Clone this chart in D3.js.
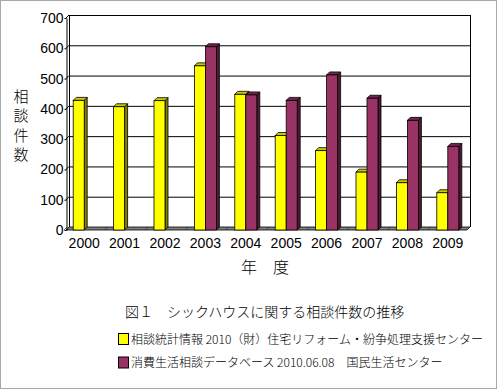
<!DOCTYPE html>
<html>
<head>
<meta charset="utf-8">
<script src="https://cdn.jsdelivr.net/npm/d3@7"></script>
<style>
  body { margin: 0; background: #fff; }
  text { font-family: "Liberation Sans", Arial, sans-serif; }
  .jp { font-family: "Noto Sans CJK JP", sans-serif; font-weight: 300; }
</style>
</head>
<body>
<script>
var years = ["2000", "2001", "2002", "2003", "2004", "2005", "2006", "2007", "2008", "2009"];
var reformCenter = [428, 407, 427, 542, 448, 312, 262, 191, 156, 123];
var kokuminCenter = [0, 0, 0, 605, 446, 428, 512, 435, 362, 276];
var yTicks = [0, 100, 200, 300, 400, 500, 600, 700];
var seriesNames = [
  "相談統計情報 2010（財）住宅リフォーム・紛争処理支援センター",
  "消費生活相談データベース 2010.06.08　国民生活センター"
];

var width = 497, height = 390;
var depth = 3;
var colors = [
  { front: "#ffff00", side: "#808000", top: "#c8c800" },
  { front: "#993366", side: "#4d1a33", top: "#73264d" }
];

var svg = d3.select("body").append("svg")
  .attr("width", width)
  .attr("height", height);

// outer frame
svg.append("rect")
  .attr("x", 0.5).attr("y", 0.5)
  .attr("width", width - 1).attr("height", height - 2)
  .attr("fill", "#fff")
  .attr("stroke", "#a8a8a8");

// front-face scales, back wall is shifted by depth
var y = d3.scaleLinear().domain([0, 700]).range([230, 18]);
var x = d3.scaleBand().domain(years).range([64, 468]);
var x1 = d3.scaleBand().domain([0, 1])
  .range([x.bandwidth() / 2 - 11, x.bandwidth() / 2 + 11]);

var left = 66, right = 467;

// back wall gridlines + left wall connectors
var grid = svg.append("g");
yTicks.forEach(function (t) {
  if (t === 0) return;
  grid.append("line")
    .attr("x1", left + depth).attr("x2", right + depth)
    .attr("y1", y(t) - depth + 0.5).attr("y2", y(t) - depth + 0.5)
    .attr("stroke", "#000");
  grid.append("line")
    .attr("x1", left).attr("x2", left + depth)
    .attr("y1", y(t)).attr("y2", y(t) - depth)
    .attr("stroke", "#000");
});
// back wall left and right edges
grid.append("line")
  .attr("x1", left + depth + 0.5).attr("x2", left + depth + 0.5)
  .attr("y1", y(700) - depth).attr("y2", y(0) - depth)
  .attr("stroke", "#000");
grid.append("line")
  .attr("x1", right + depth + 0.5).attr("x2", right + depth + 0.5)
  .attr("y1", y(700) - depth).attr("y2", y(0) - depth)
  .attr("stroke", "#000");

// floor
svg.append("path")
  .attr("d", "M" + left + "," + y(0) + "L" + (left + depth) + "," + (y(0) - depth) +
    "L" + (right + depth) + "," + (y(0) - depth) + "L" + right + "," + y(0) + "Z")
  .attr("fill", "#808080")
  .attr("stroke", "#000")
  .attr("stroke-width", 0.8);
years.forEach(function (yr) {
  var bx = x(yr);
  svg.append("line")
    .attr("x1", bx).attr("x2", bx + depth)
    .attr("y1", y(0)).attr("y2", y(0) - depth)
    .attr("stroke", "#333").attr("stroke-width", 0.8);
});

// bars
var bars = svg.append("g");
years.forEach(function (yr, i) {
  [reformCenter[i], kokuminCenter[i]].forEach(function (v, s) {
    if (!v) return;
    var bx = x(yr) + x1(s), w = x1.bandwidth();
    var top = y(v), base = y(0);
    var c = colors[s];
    bars.append("path")
      .attr("d", "M" + (bx + w) + "," + top + "L" + (bx + w + depth) + "," + (top - depth) +
        "L" + (bx + w + depth) + "," + (base - depth) + "L" + (bx + w) + "," + base + "Z")
      .attr("fill", c.side).attr("stroke", "#000").attr("stroke-width", 0.8);
    bars.append("path")
      .attr("d", "M" + bx + "," + top + "L" + (bx + depth) + "," + (top - depth) +
        "L" + (bx + w + depth) + "," + (top - depth) + "L" + (bx + w) + "," + top + "Z")
      .attr("fill", c.top).attr("stroke", "#000").attr("stroke-width", 0.8);
    bars.append("rect")
      .attr("x", bx).attr("y", top)
      .attr("width", w).attr("height", base - top)
      .attr("fill", c.front).attr("stroke", "#000").attr("stroke-width", 0.8);
  });
});

// y axis (front)
var yAxis = svg.append("g")
  .attr("transform", "translate(" + (left + 0.5) + ",0)")
  .call(d3.axisLeft(y).tickValues(yTicks).tickSize(2).tickSizeOuter(0).tickPadding(1));
yAxis.select(".domain").attr("stroke", "#000");
yAxis.selectAll("text").attr("font-size", 14).attr("fill", "#000")
  .attr("font-family", "Liberation Sans, Arial, sans-serif");

// x labels
svg.append("g").selectAll("text")
  .data(years).enter().append("text")
  .attr("x", function (d) { return x(d) + x.bandwidth() / 2; })
  .attr("y", 248)
  .attr("text-anchor", "middle")
  .attr("font-size", 14)
  .text(function (d) { return d; });

// axis titles
svg.append("text")
  .attr("class", "jp")
  .attr("x", 265).attr("y", 273)
  .attr("text-anchor", "middle")
  .attr("font-size", 16)
  .text("年　度");

svg.append("g").selectAll("text")
  .data("相談件数".split("")).enter().append("text")
  .attr("class", "jp")
  .attr("x", 21)
  .attr("y", function (d, i) { return 102 + i * 19.3; })
  .attr("text-anchor", "middle")
  .attr("font-size", 15)
  .text(function (d) { return d; });

// caption
svg.append("text")
  .attr("class", "jp")
  .attr("x", 125).attr("y", 317)
  .attr("font-size", 14)
  .text("図１　シックハウスに関する相談件数の推移");

// legend
var legend = svg.append("g").selectAll("g")
  .data(seriesNames).enter().append("g")
  .attr("transform", function (d, i) { return "translate(118," + (333 + i * 23.5) + ")"; });
legend.append("rect")
  .attr("x", 0.5).attr("y", 0.5)
  .attr("width", 10).attr("height", 11)
  .attr("fill", function (d, i) { return colors[i].front; })
  .attr("stroke", "#000");
legend.append("text")
  .attr("class", "jp")
  .attr("x", 13).attr("y", 10.5)
  .attr("font-size", 12)
  .text(function (d) { return d; });
</script>
</body>
</html>
